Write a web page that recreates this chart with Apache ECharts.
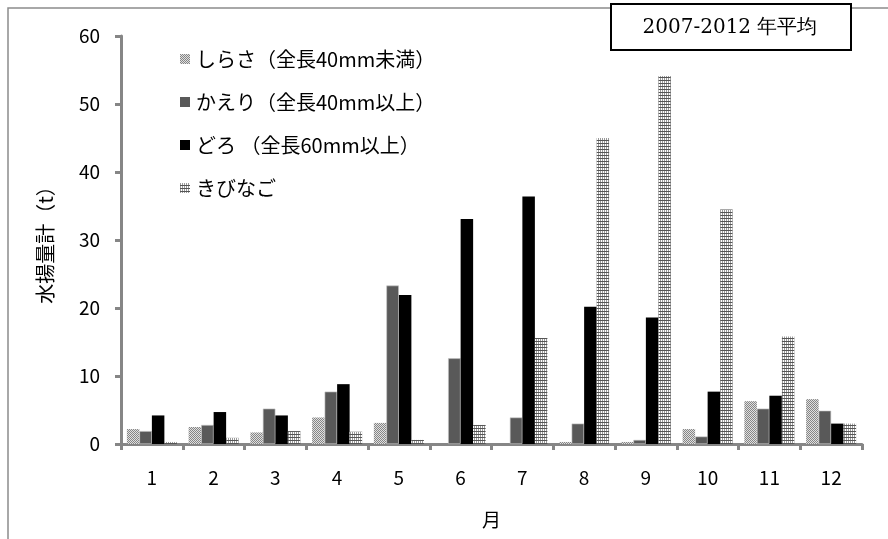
<!DOCTYPE html>
<html>
<head>
<meta charset="utf-8">
<script src="https://cdn.jsdelivr.net/npm/echarts@6/dist/echarts.min.js"></script>
<style>
html,body{margin:0;padding:0;background:#fff;}
#main{width:888px;height:539px;}
</style>
</head>
<body>
<div id="main"></div>
<script>
// 月
var months = ['1','2','3','4','5','6','7','8','9','10','11','12'];
// 水揚量 (t)
var shirasa  = [2.2, 2.5, 1.7, 3.9, 3.1, 0.0, 0.0, 0.3, 0.3, 2.2, 6.3, 6.6];
var kaeri    = [1.9, 2.8, 5.2, 7.7, 23.3, 12.6, 3.9, 3.0, 0.6, 1.1, 5.2, 4.9];
var doro     = [4.2, 4.7, 4.2, 8.8, 21.9, 33.1, 36.4, 20.2, 18.6, 7.7, 7.1, 3.0];
var kibinago = [0.3, 0.9, 1.9, 1.8, 0.6, 2.8, 15.6, 45.0, 54.1, 34.5, 15.8, 3.0];
var seriesNames = ['しらさ（全長40mm未満）', 'かえり（全長40mm以上）', 'どろ （全長60mm以上）', 'きびなご'];
var yTicks = [0, 60, 10];

var FONT = '"Noto Sans CJK JP", "Noto Sans", sans-serif';

// 網掛けパターン
function dotPattern(){
	var c = document.createElement('canvas');
	c.width = 2; c.height = 2;
	var ctx = c.getContext('2d');
	ctx.fillStyle = '#e0e0e0';
	ctx.fillRect(0,0,2,2);
	ctx.fillStyle = '#858585';
	ctx.fillRect(0,0,1,1);
	ctx.fillRect(1,1,1,1);
	return c;
}
function gridPattern(){
	var c = document.createElement('canvas');
	c.width = 2; c.height = 3;
	var ctx = c.getContext('2d');
	ctx.fillStyle = '#ffffff';
	ctx.fillRect(0,0,2,3);
	ctx.fillStyle = '#9a9a9a';
	ctx.fillRect(0,0,1,3);
	ctx.fillStyle = '#555555';
	ctx.fillRect(0,2,2,1);
	return c;
}

var colors = [
	{image: dotPattern(), repeat: 'repeat'},
	'#595959',
	'#000000',
	{image: gridPattern(), repeat: 'repeat'}
];
var dataList = [shirasa, kaeri, doro, kibinago];

var series = [];
for (var i = 0; i < dataList.length; i++) {
	series.push({
		name: seriesNames[i],
		type: 'bar',
		data: dataList[i],
		barGap: '0%',
		barCategoryGap: '19%',
		itemStyle: {
			color: colors[i],
			borderColor: i == 1 ? '#c8c8c8' : 'rgba(0,0,0,0)',
			borderWidth: i == 1 ? 0.6 : 0
		}
	});
}

var chart = echarts.init(document.getElementById('main'), null, {renderer: 'canvas'});
var option = {
	backgroundColor: '#ffffff',
	animation: false,
	grid: {left: 121, right: 26, top: 36, bottom: 95},
	legend: {
		orient: 'vertical',
		left: 175,
		top: 44,
		itemWidth: 10,
		itemHeight: 10,
		itemGap: 23,
		icon: 'rect',
		itemStyle: {borderWidth: 0},
		textStyle: {fontFamily: FONT, fontSize: 20, color: '#000', padding: [0,0,0,1]},
		data: seriesNames
	},
	xAxis: {
		type: 'category',
		data: months,
		name: '月',
		nameLocation: 'middle',
		nameGap: 66,
		nameTextStyle: {fontFamily: FONT, fontSize: 19, color: '#000'},
		axisLine: {lineStyle: {color: '#868686', width: 3}},
		axisTick: {show: true, length: 6, lineStyle: {color: '#868686', width: 3}},
		axisLabel: {fontFamily: FONT, fontSize: 19, color: '#000', margin: 24}
	},
	yAxis: {
		type: 'value',
		min: yTicks[0],
		max: yTicks[1],
		interval: yTicks[2],
		name: '水揚量計（t）',
		nameLocation: 'middle',
		nameGap: 66,
		nameTextStyle: {fontFamily: FONT, fontSize: 20, color: '#000'},
		axisLine: {show: true, lineStyle: {color: '#868686', width: 3}},
		axisTick: {show: true, length: 6, lineStyle: {color: '#868686', width: 3}},
		axisLabel: {fontFamily: FONT, fontSize: 19, color: '#000', margin: 21},
		splitLine: {show: false}
	},
	graphic: [
		{
			type: 'rect',
			shape: {x: 8, y: 8, width: 900, height: 560},
			style: {fill: 'none', stroke: '#8c8c8c', lineWidth: 1.5},
			z: 0, silent: true
		},
		{
			type: 'rect',
			shape: {x: 611, y: 4, width: 240, height: 46},
			style: {fill: '#ffffff', stroke: '#000000', lineWidth: 2},
			z: 10
		},
		{
			type: 'text',
			x: 730, y: 28,
			style: {
				text: '2007-2012 年平均',
				font: '20px "DejaVu Serif", "Liberation Serif", serif',
				fill: '#000',
				align: 'center',
				verticalAlign: 'middle'
			},
			z: 11
		}
	],
	series: series
};
chart.setOption(option);
</script>
</body>
</html>
